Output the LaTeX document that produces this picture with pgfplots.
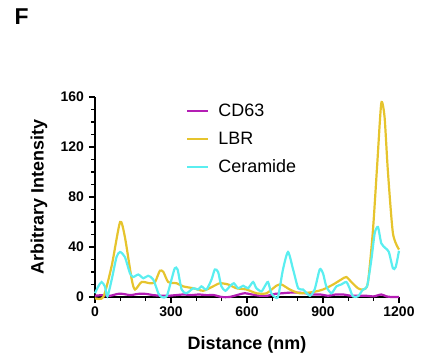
\documentclass[border=0pt]{standalone}
\usepackage{pgfplots}
\pgfplotsset{compat=1.18}
\usepackage{fontspec}
\setmainfont{Liberation Sans}
\definecolor{cdsix}{RGB}{180,30,180}
\definecolor{lbr}{RGB}{230,196,45}
\definecolor{cer}{RGB}{90,238,240}
\begin{document}
\begin{tikzpicture}
\useasboundingbox (-95bp,-65bp) rectangle (326bp,297bp);
\node[font=\fontsize{23}{23}\selectfont\bfseries] at (-73.5bp,280.5bp) {F};
\begin{axis}[
  at={(0,0)}, anchor=origin,
  width=304bp, height=200bp, scale only axis=true,
  xmin=0, xmax=1200, ymin=0, ymax=160,
  clip=false,
  axis lines*=left,
  axis line style={line width=1.3bp},
  xtick={0,300,...,1200}, ytick={0,40,...,160},
  minor x tick num=2, minor y tick num=3,
  tick align=outside,
  major tick length=6bp, minor tick length=3.5bp,
  every tick/.style={black, line width=1.2bp},
  /pgf/number format/assume math mode=true,
  /pgf/number format/1000 sep={},
  tick label style={font=\fontsize{14}{14}\selectfont\bfseries},
  yticklabel style={xshift=-1.5bp},
  xlabel={Distance (nm)}, ylabel={Arbitrary Intensity},
  every axis x label/.style={at={(axis description cs:0.5,-0.24)}, anchor=center,
    font=\fontsize{18}{18}\selectfont\bfseries},
  every axis y label/.style={at={(axis description cs:-0.184,0.5)}, rotate=90, anchor=center,
    font=\fontsize{18}{18}\selectfont\bfseries},
  legend style={draw=none, fill=none, at={(0.29,0.985)}, anchor=north west,
    font=\fontsize{18}{18}\selectfont, row sep=10bp},
  legend cell align=left,
  legend image code/.code={\draw[#1, line width=2bp] (0bp,0bp) -- (21bp,0bp); \path (28bp,0bp);},
  every axis plot/.append style={line width=2.2bp, smooth, tension=0.4},
]
\addplot[cdsix] coordinates {
(0,1) (30,1.5) (60,1) (90,2.5) (110,2.5) (140,1.5) (170,2.5) (200,2.5) (230,1.5) (260,1)
(290,1) (320,1.5) (350,2) (380,1.5) (410,2) (440,1.5) (470,1.5) (500,0) (530,0) (560,1.5)
(590,3) (620,2) (650,1) (680,1) (710,2.5) (740,3) (770,3.5) (800,3.5) (830,3) (860,2)
(890,2) (920,1) (950,2) (980,2) (1010,1) (1040,1) (1070,1) (1100,0.5) (1130,2) (1150,0.5)
(1170,0) (1200,0)};
\addlegendentry{CD63}
\addplot[lbr] coordinates {
(0,-1) (33,0) (66,25) (99,60) (118,48) (145,14) (158,6) (184,12) (217,11) (237,12)
(256,21) (270,20) (289,12) (322,11) (348,8.5) (388,7) (427,5) (466,8.5) (493,11) (526,10)
(558,7) (598,6) (637,3) (677,3) (716,9) (736,10) (769,6) (808,3) (861,4) (900,6)
(940,10) (972,14) (992,16) (1012,12) (1038,7) (1058,6) (1077,11) (1097,53) (1114,106) (1130,155)
(1143,144) (1156,101) (1176,51) (1200,38)};
\addlegendentry{LBR}
\addplot[cer] coordinates {
(0,3) (13,8.5) (26,12) (39,8.5) (49,0.5) (66,14) (85,32) (99,36) (118,32) (138,19)
(151,16) (171,18) (191,15) (210,17) (230,14) (250,3) (263,0) (283,0.5) (302,14) (315,23)
(326,22) (342,6) (361,3) (388,7) (407,6) (420,8.5) (440,6) (460,14) (473,22) (486,20)
(499,8.5) (515,5) (532,8.5) (548,11) (565,7) (585,9) (604,7) (624,12) (637,7) (657,4.5)
(670,8.5) (683,12) (696,3) (710,0) (723,0.5) (742,22) (762,36) (782,22) (802,7) (821,6)
(848,1) (867,6) (887,22) (900,19) (913,8.5) (933,3) (953,8.5) (972,10) (992,12) (1005,7)
(1018,0.5) (1038,0.5) (1058,6) (1074,8.5) (1091,30) (1104,51) (1117,56) (1130,43) (1147,39) (1160,36)
(1176,23) (1187,24) (1200,37)};
\addlegendentry{Ceramide}
\end{axis}
\end{tikzpicture}
\end{document}
